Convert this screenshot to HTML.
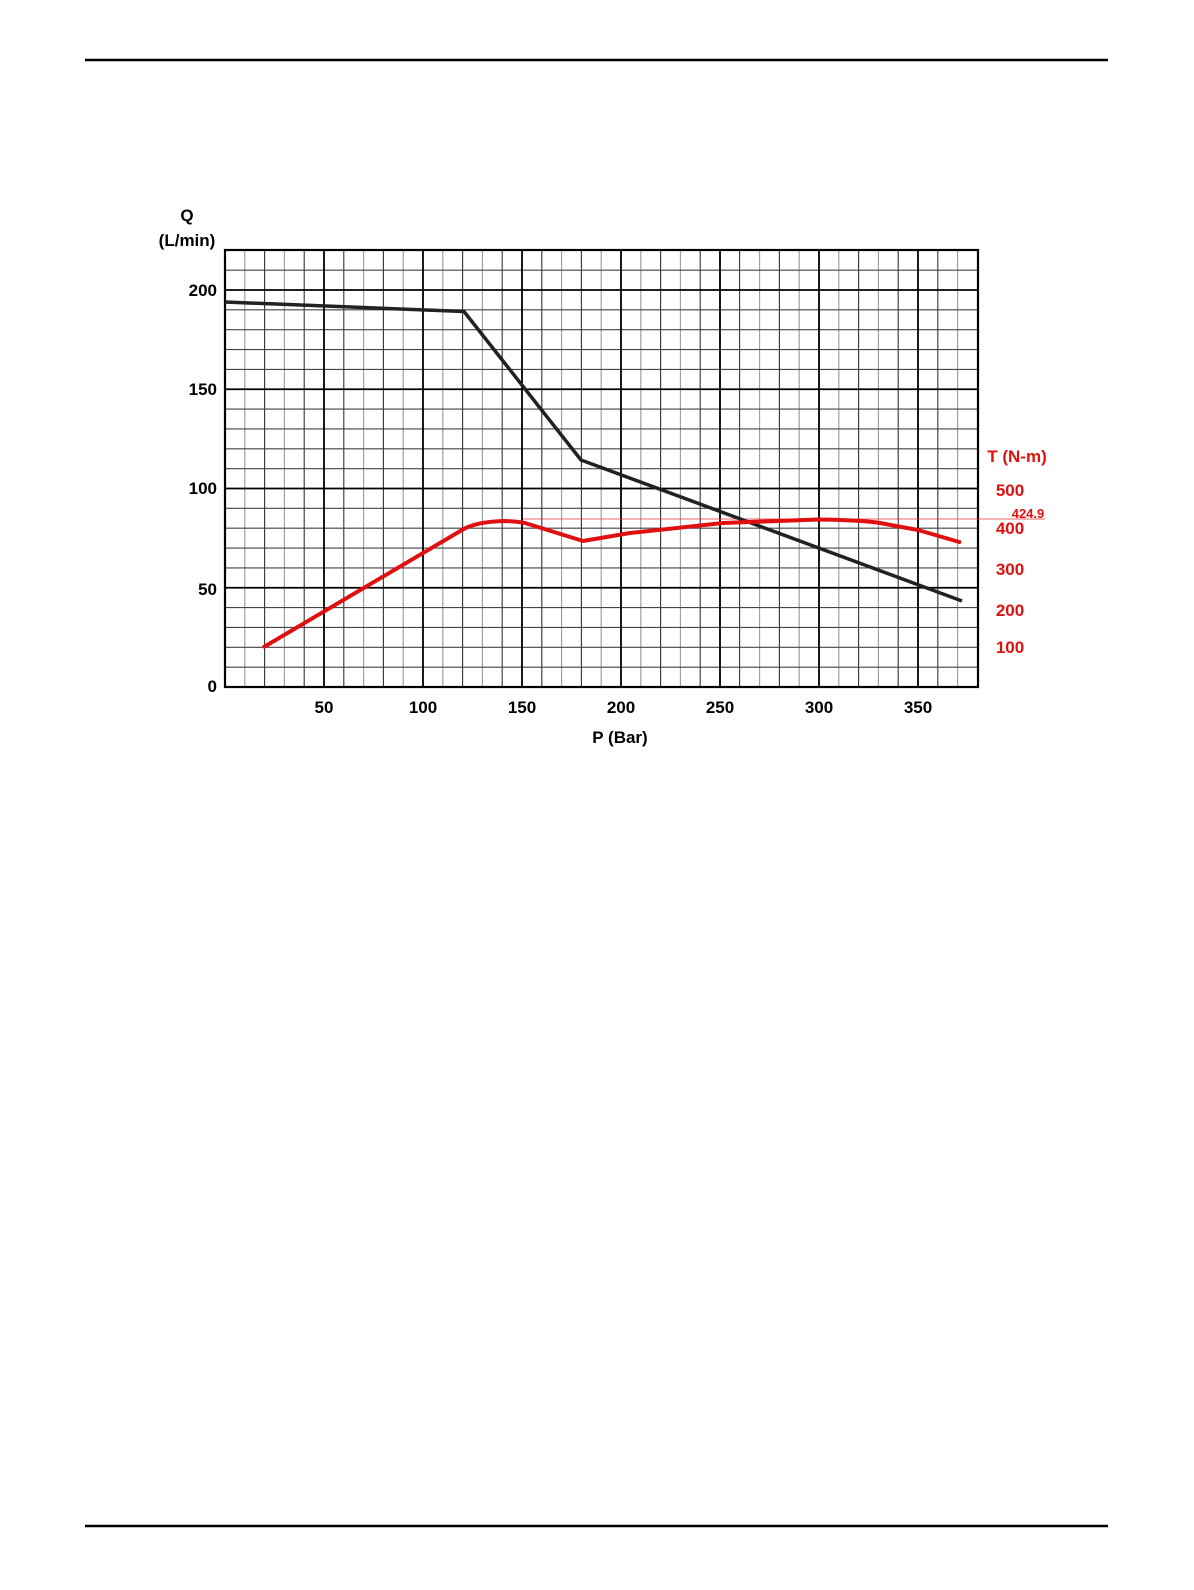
<!DOCTYPE html>
<html><head><meta charset="utf-8"><style>
html,body{margin:0;padding:0;background:#fff;}
svg{display:block;}
text{font-family:"Liberation Sans",Arial,sans-serif;font-weight:bold;}
</style></head><body>
<svg width="1194" height="1590" viewBox="0 0 1194 1590" xmlns="http://www.w3.org/2000/svg">
<rect width="1194" height="1590" fill="#fff"/>
<line x1="85" y1="60" x2="1108" y2="60" stroke="#000" stroke-width="2.5"/>
<line x1="85" y1="1526" x2="1108" y2="1526" stroke="#000" stroke-width="2.5"/>
<!-- minor verticals, light (odd tens) -->
<path stroke="#999" stroke-width="1.1" fill="none" d="M244.8,250V687M284.4,250V687M363.6,250V687M403.2,250V687M442.8,250V687M482.4,250V687M561.6,250V687M601.2,250V687M640.8,250V687M680.4,250V687M759.6,250V687M799.2,250V687M838.8,250V687M878.4,250V687M957.6,250V687"/>
<!-- minor verticals, dark -->
<path stroke="#333" stroke-width="1.1" fill="none" d="M264.6,250V687M304.2,250V687M343.8,250V687M383.4,250V687M462.6,250V687M502.2,250V687M541.8,250V687M581.4,250V687M660.6,250V687M700.2,250V687M739.6,250V687M779.4,250V687M858.6,250V687M898.2,250V687M937.8,250V687"/>
<!-- minor horizontals -->
<path stroke="#444" stroke-width="1.1" fill="none" d="M225,667.15H978M225,647.3H978M225,627.45H978M225,607.6H978M225,567.9H978M225,548.05H978M225,528.2H978M225,508.35H978M225,468.65H978M225,448.8H978M225,428.95H978M225,409.1H978M225,369.4H978M225,349.55H978M225,329.7H978M225,309.85H978M225,270.15H978"/>
<!-- majors -->
<path stroke="#000" stroke-width="1.8" fill="none" d="M324,250V687M423,250V687M522,250V687M621,250V687M720,250V687M819,250V687M918,250V687M225,587.75H978M225,488.5H978M225,389.25H978M225,290H978"/>
<rect x="225" y="250" width="753" height="437" fill="none" stroke="#000" stroke-width="2.2"/>
<line x1="523" y1="519" x2="1045" y2="519" stroke="#e33" stroke-width="0.8"/>
<polyline fill="none" stroke="#222" stroke-width="3.5" stroke-linejoin="round"
 points="225,302 464,311.5 581,460 962,601"/>
<path fill="none" stroke="#e01010" stroke-width="4" stroke-linejoin="round"
 d="M263,647.5 L462,530 Q475,522 503,521 Q515,521 525,523 L583,541 L630,533 L723,523 L818,519.5 Q860,520 880,523 L918,530 Q935,535 961,542.5"/>
<g font-size="17" fill="#000">
<text x="187" y="221" text-anchor="middle">Q</text>
<text x="187" y="246" text-anchor="middle">(L/min)</text>
<text x="217" y="296" text-anchor="end">200</text>
<text x="217" y="395" text-anchor="end">150</text>
<text x="217" y="494" text-anchor="end">100</text>
<text x="217" y="595" text-anchor="end">50</text>
<text x="217" y="692" text-anchor="end">0</text>
<text x="324" y="713" text-anchor="middle">50</text>
<text x="423" y="713" text-anchor="middle">100</text>
<text x="522" y="713" text-anchor="middle">150</text>
<text x="621" y="713" text-anchor="middle">200</text>
<text x="720" y="713" text-anchor="middle">250</text>
<text x="819" y="713" text-anchor="middle">300</text>
<text x="918" y="713" text-anchor="middle">350</text>
<text x="620" y="743" text-anchor="middle">P (Bar)</text>
</g>
<g font-size="17" fill="#e01010">
<text x="1017" y="462" text-anchor="middle">T (N-m)</text>
<text x="1010" y="496" text-anchor="middle">500</text>
<text x="1010" y="534" text-anchor="middle">400</text>
<text x="1010" y="575" text-anchor="middle">300</text>
<text x="1010" y="616" text-anchor="middle">200</text>
<text x="1010" y="653" text-anchor="middle">100</text>
<text x="1028" y="518" text-anchor="middle" font-size="13">424.9</text>
</g>
</svg>
</body></html>
